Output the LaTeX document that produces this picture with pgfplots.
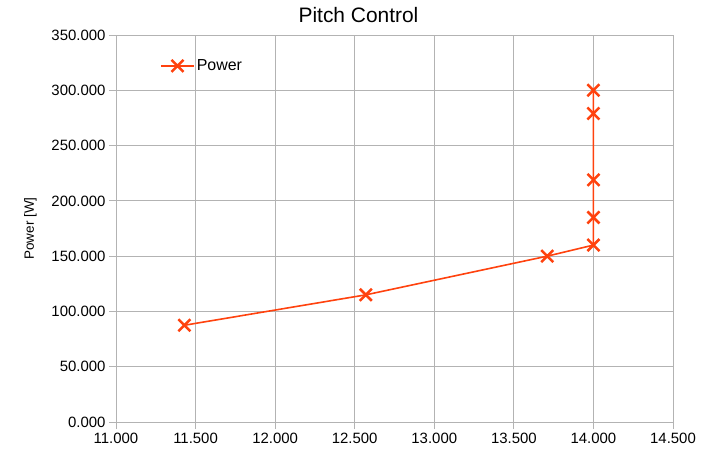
\documentclass[border=0pt]{standalone}
\usepackage{pgfplots}
\pgfplotsset{compat=1.18}
\usepackage{fontspec}
\setmainfont{Liberation Sans}
\definecolor{series}{HTML}{FF420E}
\definecolor{gridgray}{HTML}{B3B3B3}

\begin{document}
\begin{tikzpicture}
\begin{axis}[
  at={(0,0)}, anchor=south west,
  scale only axis, width=557bp, height=387bp,
  xmin=11, xmax=14.5, ymin=0, ymax=350,
  xtick={11,11.5,...,14.5}, ytick={0,50,...,350},
  grid=major,
  major grid style={gridgray, line width=0.8pt},
  axis line style={gridgray, line width=0.8pt},
  tick style={gridgray, line width=0.8pt},
  tick align=outside, major tick length=7bp, tick pos=left,
  /pgf/number format/.cd, fixed, fixed zerofill, precision=3, 1000 sep={}, assume math mode=true,
  /pgfplots/.cd,
  ticklabel style={font=\fontsize{15}{18}\selectfont, text=black},
  xticklabel style={yshift=-1bp},
  title={Pitch Control},
  title style={font=\fontsize{21}{25}\selectfont, yshift=3bp, xshift=-36bp},
  ylabel={Power [W]},
  ylabel style={font=\fontsize{13.5}{16}\selectfont, yshift=8bp},
  legend style={draw=none, fill=none, at={(0.079,0.92)}, anchor=west,
    inner sep=0pt, font=\fontsize{16}{19}\selectfont},
  legend image code/.code={%
    \draw[mark repeat=2,mark phase=2] plot coordinates {(0bp,0bp) (16.5bp,0bp) (33bp,0bp)};},
]
\addplot[series, line width=1.6bp, mark=x, mark size=8.5bp,
  mark options={line width=2.5bp}] coordinates {
  (11.43, 87.5)
  (12.57, 115)
  (13.71, 150)
  (14.00, 160)
  (14.00, 185)
  (14.00, 219)
  (14.00, 279)
  (14.00, 300)
};
\addlegendentry{Power}
\end{axis}
\pgfresetboundingbox
\path (-116bp,-31bp) rectangle (594bp,422bp);
\end{tikzpicture}
\end{document}
